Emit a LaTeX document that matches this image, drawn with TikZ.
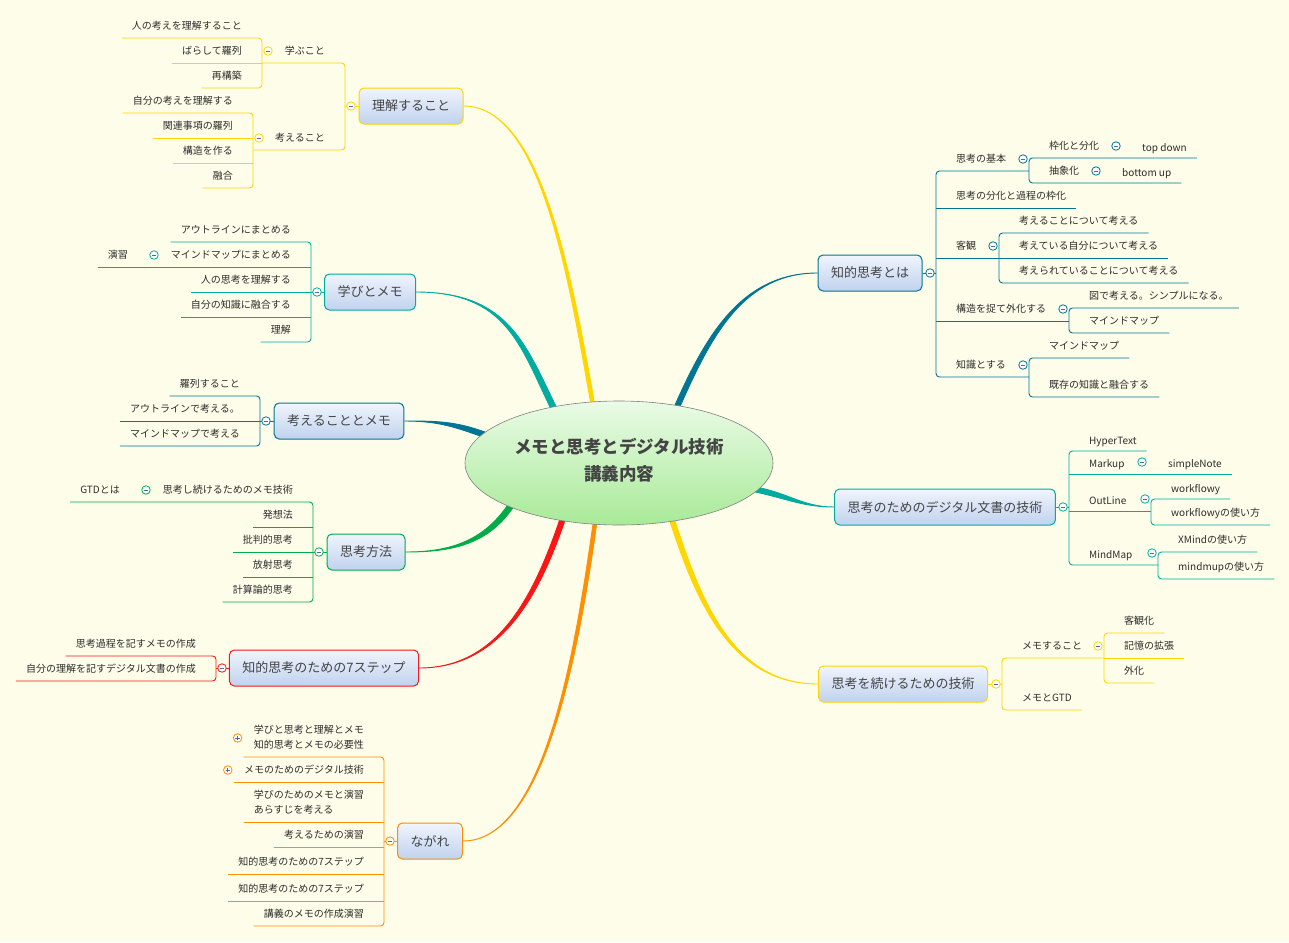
\documentclass[tikz,border=0pt]{standalone}
\usepackage{fontspec}
\setmainfont{Noto Sans CJK JP}
\usetikzlibrary{shapes.geometric}
\definecolor{bgc}{RGB}{253,253,233}
\definecolor{cYel}{RGB}{255,214,0}
\definecolor{cTeal}{RGB}{0,172,160}
\definecolor{cDteal}{RGB}{0,118,148}
\definecolor{cGreen}{RGB}{0,172,72}
\definecolor{cRed}{RGB}{250,22,22}
\definecolor{cOrange}{RGB}{255,142,0}
\definecolor{txt}{RGB}{45,45,45}
\definecolor{ttxt}{RGB}{68,68,68}
\definecolor{tpc}{RGB}{240,245,253}
\definecolor{btc}{RGB}{192,210,238}
\definecolor{ctop}{RGB}{234,251,230}
\definecolor{cbot}{RGB}{168,234,152}
\definecolor{fgc}{RGB}{85,105,160}
\pgfdeclarelayer{bg}
\pgfdeclarelayer{br}
\pgfsetlayers{bg,br,main}

\begin{document}
\begin{tikzpicture}[x=1pt,y=-1pt,
    topic/.style={draw=#1,line width=1pt,rounded corners=5pt,top color=tpc,bottom color=btc,
        minimum height=36pt,inner xsep=13pt,font=\fontsize{13}{15}\selectfont,text=ttxt},
    leaf/.style={inner xsep=10pt,inner ysep=6.5pt,text height=8pt,text depth=2pt,
        font=\fontsize{10}{15}\selectfont,text=txt},
    leafL/.style={leaf,anchor=south east,xshift=-10pt},
    leafR/.style={leaf,anchor=south west,xshift=10pt},
    lat/.style={inner ysep=4pt},
    ln/.style={draw=#1,line width=0.9pt,rounded corners=3.5pt},
    fold/.style={circle,draw=#1,fill=white,minimum size=8.5pt,inner sep=0pt,line width=0.8pt,
        path picture={\draw[fgc,line width=0.7pt] ([xshift=-2.3pt]path picture bounding box.center)
            -- ([xshift=2.3pt]path picture bounding box.center);}},
    foldp/.style={fold=#1,
        path picture={\draw[fgc,line width=0.7pt] ([xshift=-2.3pt]path picture bounding box.center)
            -- ([xshift=2.3pt]path picture bounding box.center)
            ([yshift=-2.3pt]path picture bounding box.center)
            -- ([yshift=2.3pt]path picture bounding box.center);}}]
\useasboundingbox (0,0) rectangle (1289,942);
\begin{pgfonlayer}{bg}
    \fill[bgc] (0,0) rectangle (1289,942);
\end{pgfonlayer}

\node[ellipse,draw=gray,line width=0.6pt,top color=ctop,bottom color=cbot,minimum width=308pt,
    minimum height=124pt,inner sep=0pt] (ctr) at (619,463) {};
\node[align=center,text=ttxt,font=\bfseries\fontsize{17.5}{27}\selectfont] (ctrtxt) at (619,460)
    {メモと思考とデジタル技術\\講義内容};

\node[topic=cYel] (n1) at (411,106) {理解すること};
\node[topic=cTeal] (n2) at (370,292) {学びとメモ};
\node[topic=cDteal] (n3) at (339,421) {考えることとメモ};
\node[topic=cGreen] (n4) at (366,552) {思考方法};
\node[topic=cRed] (n5) at (324,668) {知的思考のための7ステップ};
\node[topic=cOrange] (n6) at (430,841) {ながれ};
\node[topic=cDteal] (n7) at (870,273) {知的思考とは};
\node[topic=cTeal] (n8) at (945,507) {思考のためのデジタル文書の技術};
\node[topic=cYel] (n9) at (903,684) {思考を続けるための技術};

\begin{pgfonlayer}{br}
    \foreach \a/\b/\o/\n/\s/\i/\c/\p/\q in {112/115/100/n1/east/0/cYel/1.1/0.6,
            138/141/116/n2/east/0/cTeal/1/1.3,167/169/160/n3/east/0/cDteal/1/1,
            201/203/235/n4/east/0/cGreen/1/1,224/227/251/n5/east/0/cRed/1/1,
            247/250/262/n6/east/0/cOrange/1/0.6,43/46/66/n7/west/180/cDteal/1/1,
            348/350/-12/n8/west/180/cTeal/1/1,311/314/288/n9/west/180/cYel/1/1}
        \filldraw[fill=\c,draw=\c,line width=0.9pt]
            (ctr.\a) to[out=\o,in=\i,out looseness=\p,in looseness=\q] (\n.\s)
            to[out=\i,in=\o,out looseness=\q,in looseness=\p] (ctr.\b) -- cycle;
\end{pgfonlayer}

% 理解すること
\coordinate (s1) at (345,106);
\coordinate (s11) at (262,63);
\coordinate (s12) at (253,150);
\node[leafL] (r1a) at (345,63) {学ぶこと};
\node[leafL] (r1b) at (345,150) {考えること};
\foreach \n/\y/\t in {a/38/人の考えを理解すること,b/63/ばらして羅列,c/88/再構築}
    \node[leafL] (r11\n) at (262,\y) {\t};
\foreach \n/\y/\t in {a/113/自分の考えを理解する,b/138/関連事項の羅列,c/163/構造を作る,d/188/融合}
    \node[leafL] (r12\n) at (253,\y) {\t};
\draw[ln=cYel] (n1.west) -- (s1);
\draw[ln=cYel] (s11) -- (s11 -| s1) -- (s12 -| s1) -- (s12);
\draw[ln=cYel] (r11a.south west) -- (r11a.south west -| s11) -- (r11c.south west -| s11) -- (r11c.south west);
\draw[ln=cYel] (r11b.south west) -- (s11);
\draw[ln=cYel] (r12a.south west) -- (r12a.south west -| s12) -- (r12d.south west -| s12) -- (r12d.south west);
\foreach \n in {b,c}
    \draw[ln=cYel] (r12\n.south west) -- (r12\n.south west -| s12);
\node[fold=cYel] (f1) at ([xshift=6pt]s1) {};
\node[fold=cYel] (f11) at ([xshift=6pt,yshift=12pt]s11) {};
\node[fold=cYel] (f12) at ([xshift=6pt,yshift=12pt]s12) {};

% 学びとメモ
\coordinate (s2) at (311,292);
\coordinate (s21) at (148,267);
\foreach \n/\y/\t in {a/242/アウトラインにまとめる,b/267/マインドマップにまとめる,c/292/人の思考を理解する,
        d/317/自分の知識に融合する,e/342/理解}
    \node[leafL] (r2\n) at (311,\y) {\t};
\node[leafL] (r21a) at (148,267) {演習};
\draw[ln=cTeal] (n2.west) -- (s2);
\draw[ln=cTeal] (r2a.south west) -- (r2a.south west -| s2) -- (r2e.south west -| s2) -- (r2e.south west);
\draw[ln=cTeal] (r21a.south west) -- (r21a.south west -| s2);
\foreach \n in {c,d}
    \draw[ln=cTeal] (r2\n.south west) -- (r2\n.south west -| s2);
\node[fold=cTeal] (f2) at ([xshift=6pt]s2) {};
\node[fold=cTeal] (f21) at ([xshift=6pt,yshift=12pt]s21) {};

% 考えることとメモ
\coordinate (s3) at (260,421);
\foreach \n/\y/\t in {a/396/羅列すること,b/421/アウトラインで考える。,c/446/マインドマップで考える}
    \node[leafL] (r3\n) at (260,\y) {\t};
\draw[ln=cDteal] (n3.west) -- (s3);
\draw[ln=cDteal] (r3a.south west) -- (r3a.south west -| s3) -- (r3c.south west -| s3) -- (r3c.south west);
\draw[ln=cDteal] (r3b.south west) -- (s3);
\node[fold=cDteal] (f3) at ([xshift=6pt]s3) {};

% 思考方法
\coordinate (s4) at (313,552);
\coordinate (s41) at (140,502);
\foreach \n/\y/\t in {a/502/思考し続けるためのメモ技術,b/527/発想法,c/552/批判的思考,d/577/放射思考,e/602/計算論的思考}
    \node[leafL] (r4\n) at (313,\y) {\t};
\node[leafL] (r41a) at (140,502) {GTDとは};
\draw[ln=cGreen] (n4.west) -- (s4);
\draw[ln=cGreen] (r41a.south west) -- (r41a.south west -| s4) -- (r4e.south west -| s4) -- (r4e.south west);
\foreach \n in {b,c,d}
    \draw[ln=cGreen] (r4\n.south west) -- (r4\n.south west -| s4);
\node[fold=cGreen] (f4) at ([xshift=6pt]s4) {};
\node[fold=cGreen] (f41) at ([xshift=6pt,yshift=12pt]s41) {};

% 知的思考のための7ステップ
\coordinate (s5) at (216,668);
\foreach \n/\y/\t in {a/656/思考過程を記すメモの作成,b/681/自分の理解を記すデジタル文書の作成}
    \node[leafL] (r5\n) at (216,\y) {\t};
\draw[ln=cRed] (n5.west) -- (s5);
\draw[ln=cRed] (r5a.south west) -- (r5a.south west -| s5) -- (r5b.south west -| s5) -- (r5b.south west);
\node[fold=cRed] (f5) at ([xshift=6pt]s5) {};

% ながれ
\coordinate (s6) at (384,841);
\node[leafL,text depth=17pt] (r6a) at (384,757)
    {\begin{tabular}[t]{@{}l@{}}学びと思考と理解とメモ\\知的思考とメモの必要性\end{tabular}};
\node[leafL] (r6b) at (384,782) {メモのためのデジタル技術};
\node[leafL,text depth=17pt] (r6c) at (384,822)
    {\begin{tabular}[t]{@{}l@{}}学びのためのメモと演習\\あらすじを考える\end{tabular}};
\foreach \n/\y/\t in {d/847/考えるための演習,e/874/知的思考のための7ステップ,f/901/知的思考のための7ステップ,
        g/926/講義のメモの作成演習}
    \node[leafL] (r6\n) at (384,\y) {\t};
\draw[ln=cOrange] (n6.west) -- (s6);
\draw[ln=cOrange] (r6a.south west) -- (r6a.south west -| s6) -- (r6g.south west -| s6) -- (r6g.south west);
\foreach \n in {b,c,d,e,f}
    \draw[ln=cOrange] (r6\n.south west) -- (r6\n.south west -| s6);
\node[fold=cOrange] (f6) at ([xshift=6pt]s6) {};
\node[foldp=cOrange] (f6a) at ([xshift=-6pt,yshift=19pt]r6a.south west) {};
\node[foldp=cOrange] (f6b) at ([xshift=-6pt,yshift=12pt]r6b.south west) {};

% 知的思考とは
\coordinate (s7) at (936,273);
\coordinate (s71) at (1029,171);
\coordinate (s711) at (1122,158);
\coordinate (s712) at (1102,183);
\coordinate (s73) at (999,258);
\coordinate (s74) at (1069,321);
\coordinate (s75) at (1029,377);
\foreach \n/\y/\t in {a/171/思考の基本,b/208/思考の分化と過程の枠化,c/258/客観,d/321/構造を捉て外化する,e/377/知識とする}
    \node[leafR] (r7\n) at (936,\y) {\t};
\node[leafR] (r71a) at (1029,158) {枠化と分化};
\node[leafR] (r71b) at (1029,183) {抽象化};
\node[leafR,lat] (r711a) at (1122,158) {top down};
\node[leafR,lat] (r712a) at (1102,183) {bottom up};
\foreach \n/\y/\t in {a/233/考えることについて考える,b/258/考えている自分について考える,c/283/考えられていることについて考える}
    \node[leafR] (r73\n) at (999,\y) {\t};
\foreach \n/\y/\t in {a/308/図で考える。シンプルになる。,b/333/マインドマップ}
    \node[leafR] (r74\n) at (1069,\y) {\t};
\foreach \n/\y/\t in {a/358/マインドマップ,b/397/既存の知識と融合する}
    \node[leafR] (r75\n) at (1029,\y) {\t};
\draw[ln=cDteal] (n7.east) -- (s7);
\draw[ln=cDteal] (s71) -- (s71 -| s7) -- (s75 -| s7) -- (s75);
\draw[ln=cDteal] (r7b.south east) -- (r7b.south east -| s7);
\foreach \n in {3,4}
    \draw[ln=cDteal] (s7\n) -- (s7\n -| s7);
\draw[ln=cDteal] (r711a.south east) -- (r711a.south east -| s71) -- (r712a.south east -| s71) -- (r712a.south east);
\draw[ln=cDteal] (r73a.south east) -- (r73a.south east -| s73) -- (r73c.south east -| s73) -- (r73c.south east);
\draw[ln=cDteal] (r73b.south east) -- (s73);
\draw[ln=cDteal] (r74a.south east) -- (r74a.south east -| s74) -- (r74b.south east -| s74) -- (r74b.south east);
\draw[ln=cDteal] (r75a.south east) -- (r75a.south east -| s75) -- (r75b.south east -| s75) -- (r75b.south east);
\node[fold=cDteal] (f7) at ([xshift=-6pt]s7) {};
\foreach \n in {71,711,712,73,74,75}
    \node[fold=cDteal] (f\n) at ([xshift=-6pt,yshift=12pt]s\n) {};

% 思考のためのデジタル文書の技術
\coordinate (s8) at (1069,507);
\coordinate (s82) at (1148,474);
\coordinate (s83) at (1151,511);
\coordinate (s84) at (1158,565);
\foreach \n/\y/\t in {a/451/HyperText,b/474/Markup,c/511/OutLine,d/565/MindMap}
    \node[leafR,lat] (r8\n) at (1069,\y) {\t};
\node[leafR,lat] (r82a) at (1148,474) {simpleNote};
\node[leafR,lat] (r83a) at (1151,499) {workflowy};
\node[leafR] (r83b) at (1151,525) {workflowyの使い方};
\foreach \n/\y/\t in {a/552/XMindの使い方,b/579/mindmupの使い方}
    \node[leafR] (r84\n) at (1158,\y) {\t};
\draw[ln=cTeal] (n8.east) -- (s8);
\draw[ln=cTeal] (r8a.south east) -- (r8a.south east -| s8) -- (s84 -| s8) -- (s84);
\draw[ln=cTeal] (r82a.south east) -- (r82a.south east -| s8);
\draw[ln=cTeal] (s83) -- (s83 -| s8);
\draw[ln=cTeal] (r83a.south east) -- (r83a.south east -| s83) -- (r83b.south east -| s83) -- (r83b.south east);
\draw[ln=cTeal] (r84a.south east) -- (r84a.south east -| s84) -- (r84b.south east -| s84) -- (r84b.south east);
\node[fold=cTeal] (f8) at ([xshift=-6pt]s8) {};
\foreach \n in {82,83,84}
    \node[fold=cTeal] (f\n) at ([xshift=-6pt,yshift=12pt]s\n) {};

% 思考を続けるための技術
\coordinate (s9) at (1002,684);
\coordinate (s91) at (1104,658);
\node[leafR] (r9a) at (1002,658) {メモすること};
\node[leafR] (r9b) at (1002,710) {メモとGTD};
\foreach \n/\y/\t in {a/633/客観化,b/658/記憶の拡張,c/683/外化}
    \node[leafR] (r91\n) at (1104,\y) {\t};
\draw[ln=cYel] (n9.east) -- (s9);
\draw[ln=cYel] (s91) -- (s91 -| s9) -- (r9b.south east -| s9) -- (r9b.south east);
\draw[ln=cYel] (r91a.south east) -- (r91a.south east -| s91) -- (r91c.south east -| s91) -- (r91c.south east);
\draw[ln=cYel] (r91b.south east) -- (s91);
\node[fold=cYel] (f9) at ([xshift=-6pt]s9) {};
\node[fold=cYel] (f91) at ([xshift=-6pt,yshift=12pt]s91) {};
\end{tikzpicture}
\end{document}
